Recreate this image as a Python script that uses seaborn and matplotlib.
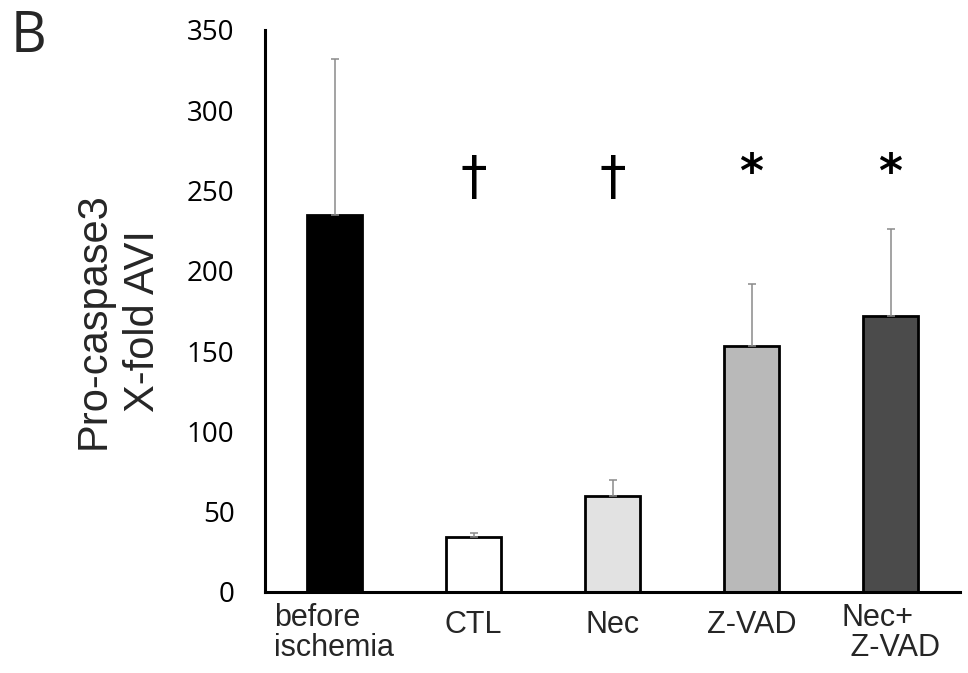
import matplotlib
matplotlib.use("Agg")
import matplotlib.pyplot as plt
import matplotlib.transforms as mtransforms
import numpy as np
import pandas as pd
import seaborn as sns

# Valores (media y error superior)
grupos = ["before\nischemia", "CTL", "Nec", "Z-VAD", "Nec+\n Z-VAD"]
medias = [235, 34, 60, 153, 172]
errores = [97, 3, 10, 39, 54]
colores = ["#000000", "#ffffff", "#e2e2e2", "#b9b9b9", "#4b4b4b"]
marcas = ["", "\u2020", "\u2020", "*", "*"]
y_marcas = [0, 257, 257, 260, 260]
y_ticks = [0, 50, 100, 150, 200, 250, 300, 350]

sns.set_theme(style="white")
plt.rcParams["font.family"] = ["Liberation Sans", "DejaVu Sans"]

df = pd.DataFrame({"grupo": grupos, "valor": medias})

fig = plt.figure(figsize=(9.68, 6.73), dpi=100)
ax = fig.add_axes([265 / 968, 1 - 592 / 673, (960 - 265) / 968, (592 - 30) / 673])

sns.barplot(
    data=df, x="grupo", y="valor", hue="grupo", palette=colores,
    width=0.4, errorbar=None, legend=False, ax=ax,
    edgecolor="black", linewidth=2.0,
)

# Barras de error solo hacia arriba
x = np.arange(len(grupos))
ax.errorbar(
    x, medias, yerr=[np.zeros(len(errores)), errores], fmt="none",
    ecolor="#8a8a8a", elinewidth=1.1, capsize=3, capthick=1.1, zorder=1,
)

# Símbolos de significancia
for xi, m, ym in zip(x, marcas, y_marcas):
    if m == "*":
        ax.text(xi, ym, m, ha="center", va="center", fontsize=33,
                fontweight="bold", family=["DejaVu Sans"], color="black")
    elif m:
        ax.text(xi, ym, m, ha="center", va="center", fontsize=38,
                family=["DejaVu Sans"], color="black")

ax.set_ylim(0, 350)
ax.set_xlim(-0.5, len(grupos) - 0.5)
ax.set_yticks(y_ticks)
ax.set_yticklabels([str(t) for t in y_ticks], family=["Open Sans", "DejaVu Sans"], fontsize=20)
ax.set_xlabel("")
ax.set_ylabel("")

for s in ["top", "right"]:
    ax.spines[s].set_visible(False)
for s in ["left", "bottom"]:
    ax.spines[s].set_linewidth(2.2)
    ax.spines[s].set_color("black")

ax.tick_params(axis="y", direction="in", length=7, width=2.2, pad=22, colors="black")
ax.tick_params(axis="x", which="major", length=0, pad=8, labelsize=22)
ax.set_xticks(np.arange(len(grupos) + 1) - 0.5, minor=True)
ax.tick_params(axis="x", which="minor", direction="in", length=3, width=2.2, color="black")

# Etiquetas de una sola línea un poco más abajo
for lab, g in zip(ax.get_xticklabels(), grupos):
    lab.set_multialignment("left")
    lab.set_linespacing(1.0)
    if "\n" not in g:
        off = mtransforms.ScaledTranslation(0, -5 / 72, fig.dpi_scale_trans)
        lab.set_transform(lab.get_transform() + off)

fig.text(118 / 968, 1 - 321 / 673, "Pro-caspase3\nX-fold AVI", rotation=90,
         ha="center", va="center", fontsize=30, linespacing=1.3, multialignment="center")
fig.text(11 / 968, 1 - 9 / 673, "B", ha="left", va="top", fontsize=40,
         family=["Open Sans", "DejaVu Sans"])

fig.savefig("out.png", dpi=100, facecolor="white")
